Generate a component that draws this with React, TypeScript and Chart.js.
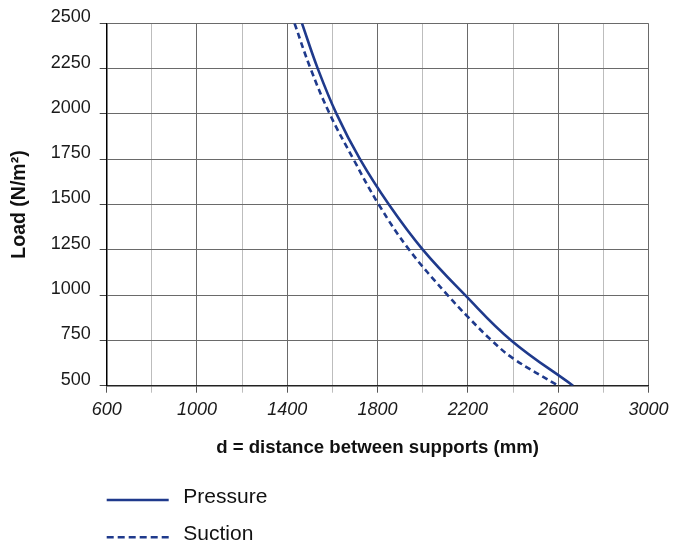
import React, { useEffect, useRef } from 'react';
import { Chart, registerables } from 'chart.js';

Chart.register(...registerables);

// ---- data ----
const pressureDistance = [1465, 1535, 1618, 1722, 1850, 2001, 2188, 2392, 2666];
const pressureLoad = [2500, 2250, 2000, 1750, 1500, 1250, 1000, 750, 500];

const suctionDistance = [1432, 1503, 1588, 1693, 1805, 1940, 2110, 2200, 2305, 2400, 2600];
const suctionLoad = [2500, 2250, 2000, 1750, 1500, 1250, 1000, 880, 750, 651, 500];

const seriesLabels = ['Pressure', 'Suction'];
const xTickLabels = [600, 1000, 1400, 1800, 2200, 2600, 3000];
const yTickLabels = [500, 750, 1000, 1250, 1500, 1750, 2000, 2250, 2500];

const xTitle = 'd = distance between supports (mm)';
const yTitle = 'Load (N/m²)';

const FONT = '"Liberation Sans", Arial, Helvetica, sans-serif';
const LINE_COLOR = '#1f3a8c';
const DARK_GRID = '#6a6a6a';
const LIGHT_GRID = '#bdbdbd';

const toPoints = (xs: number[], ys: number[]) => xs.map((x, i) => ({ x, y: ys[i] }));

const stackedLegend = {
  id: 'stackedLegend',
  afterDraw(chart: any) {
    const ctx: CanvasRenderingContext2D = chart.ctx;
    const left = chart.chartArea.left;
    ctx.save();
    chart.data.datasets.forEach((ds: any, i: number) => {
      const lineY = 500 + i * 37.3;
      ctx.beginPath();
      ctx.strokeStyle = ds.borderColor;
      ctx.lineWidth = 2.6;
      ctx.setLineDash(ds.borderDash && ds.borderDash.length ? [7, 4] : []);
      ctx.moveTo(left, lineY);
      ctx.lineTo(left + 62, lineY);
      ctx.stroke();
      ctx.setLineDash([]);
      ctx.fillStyle = '#111';
      ctx.font = `21px ${FONT}`;
      ctx.textAlign = 'left';
      ctx.textBaseline = 'alphabetic';
      ctx.fillText(ds.label, left + 76.6, lineY + 2.5);
    });
    ctx.restore();
  },
};

export default function App() {
  const canvasRef = useRef<HTMLCanvasElement | null>(null);

  useEffect(() => {
    if (!canvasRef.current) return;
    const chart = new Chart(canvasRef.current, {
      type: 'line',
      data: {
        datasets: [
          {
            label: seriesLabels[0],
            data: toPoints(pressureDistance, pressureLoad),
            borderColor: LINE_COLOR,
            borderWidth: 2.6,
            pointRadius: 0,
            fill: false,
            tension: 0.4,
          },
          {
            label: seriesLabels[1],
            data: toPoints(suctionDistance, suctionLoad),
            borderColor: LINE_COLOR,
            borderWidth: 2.6,
            borderDash: [6, 4],
            pointRadius: 0,
            fill: false,
            tension: 0.4,
          },
        ],
      },
      options: {
        animation: false,
        responsive: false,
        devicePixelRatio: 1,
        layout: { padding: { top: 23.3, right: 24.3, bottom: 80.3, left: 0 } },
        plugins: {
          legend: { display: false },
          tooltip: { enabled: false },
        },
        scales: {
          x: {
            type: 'linear',
            min: xTickLabels[0],
            max: xTickLabels[xTickLabels.length - 1],
            afterFit: (scale: any) => {
              scale.height = 77;
            },
            ticks: {
              stepSize: 200,
              autoSkip: false,
              maxRotation: 0,
              padding: 6.5,
              color: '#1a1a1a',
              font: { family: FONT, size: 18, style: 'italic' },
              callback: (v: any) => (xTickLabels.includes(Number(v)) ? String(v) : ''),
            },
            grid: {
              color: (c: any) => (xTickLabels.includes(c.tick?.value) ? DARK_GRID : LIGHT_GRID),
              tickColor: (c: any) => (xTickLabels.includes(c.tick?.value) ? '#555' : LIGHT_GRID),
              tickLength: 7,
              lineWidth: 1,
            },
            border: { display: true, color: '#222', width: 1.5 },
            title: {
              display: true,
              text: xTitle,
              color: '#111',
              font: { family: FONT, size: 18.6, weight: 'bold' },
              padding: { top: 4, bottom: 4 },
            },
          },
          y: {
            type: 'linear',
            min: yTickLabels[0],
            max: yTickLabels[yTickLabels.length - 1],
            afterFit: (scale: any) => {
              scale.width = 106.7;
            },
            ticks: {
              stepSize: 250,
              padding: 9,
              labelOffset: -6,
              color: '#1a1a1a',
              font: { family: FONT, size: 18 },
              callback: (v: any) => String(v),
            },
            grid: {
              color: DARK_GRID,
              tickColor: '#444',
              tickLength: 7,
              lineWidth: 1,
            },
            border: { display: true, color: '#000', width: 1.5 },
            title: {
              display: true,
              text: yTitle,
              color: '#111',
              font: { family: FONT, size: 19.5, weight: 'bold' },
              padding: { top: 7.5, bottom: 4 },
            },
          },
        },
      },
      plugins: [stackedLegend],
    } as any);
    return () => chart.destroy();
  }, []);

  return (
    <div style={{ position: 'absolute', left: 0, top: 0, width: 675, height: 543, background: '#fff' }}>
      <canvas ref={canvasRef} width={675} height={543} style={{ display: 'block' }} />
    </div>
  );
}
